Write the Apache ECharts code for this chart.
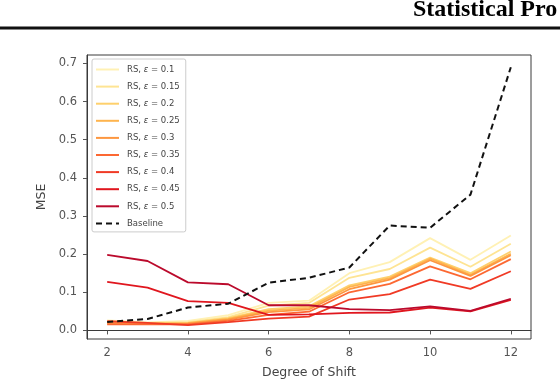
<!DOCTYPE html>
<html>
<head>
<meta charset="utf-8">
<script src="https://cdn.jsdelivr.net/npm/echarts@6/dist/echarts.min.js"></script>
<style>
  html, body { margin: 0; padding: 0; background: #fff; }
  #chart { width: 560px; height: 384px; }
</style>
</head>
<body>
<div id="chart"></div>
<script>
var shift = [2, 3, 4, 5, 6, 7, 8, 9, 10, 11, 12]
var xTicks = [2, 4, 6, 8, 10, 12]
var yTicks = [0, 0.1, 0.2, 0.3, 0.4, 0.5, 0.6, 0.7]
var epsilons = ['0.1', '0.15', '0.2', '0.25', '0.3', '0.35', '0.4', '0.45', '0.5']
var colors = ['#fff1b4', '#fee493', '#fed06c', '#feb44e', '#fd9740', '#fc6832', '#f03a25', '#e0161e', '#bb0a2c']

// MSE of RS for each epsilon
var rs01 = [0.026, 0.021, 0.025, 0.040, 0.072, 0.078, 0.150, 0.179, 0.242, 0.185, 0.249]
var rs015 = [0.024, 0.020, 0.022, 0.035, 0.065, 0.072, 0.138, 0.161, 0.217, 0.167, 0.227]
var rs02 = [0.022, 0.019, 0.020, 0.032, 0.056, 0.063, 0.118, 0.141, 0.191, 0.150, 0.207]
var rs025 = [0.020, 0.018, 0.019, 0.030, 0.052, 0.059, 0.114, 0.137, 0.188, 0.146, 0.201]
var rs03 = [0.018, 0.017, 0.018, 0.028, 0.048, 0.055, 0.108, 0.133, 0.184, 0.143, 0.197]
var rs035 = [0.016, 0.016, 0.016, 0.025, 0.041, 0.049, 0.100, 0.122, 0.168, 0.134, 0.187]
var rs04 = [0.024, 0.020, 0.014, 0.022, 0.031, 0.036, 0.081, 0.095, 0.133, 0.109, 0.155]
var rs045 = [0.127, 0.112, 0.077, 0.072, 0.041, 0.042, 0.046, 0.047, 0.060, 0.050, 0.080]
var rs05 = [0.198, 0.182, 0.126, 0.121, 0.066, 0.066, 0.056, 0.053, 0.063, 0.051, 0.083]
var baseline = [0.022, 0.030, 0.060, 0.070, 0.125, 0.138, 0.165, 0.275, 0.269, 0.356, 0.690]

var rsValues = [rs01, rs015, rs02, rs025, rs03, rs035, rs04, rs045, rs05]

function pairs(vals) {
  return shift.map(function (x, i) { return [x, vals[i]] })
}

var series = rsValues.map(function (vals, i) {
  return {
    name: 'RS, ε = ' + epsilons[i],
    type: 'line',
    data: pairs(vals),
    symbol: 'none',
    lineStyle: { color: colors[i], width: 1.8 },
    itemStyle: { color: colors[i] }
  }
})
series.push({
  name: 'Baseline',
  type: 'line',
  data: pairs(baseline),
  symbol: 'none',
  lineStyle: { color: '#111', width: 2, type: [6, 4] },
  itemStyle: { color: '#111' }
})

var chart = echarts.init(document.getElementById('chart'), null, { renderer: 'canvas' })
chart.setOption({
  animation: false,
  backgroundColor: '#fff',
  grid: {
    left: 87, right: 29, top: 55, bottom: 41,
    show: true, borderColor: '#3a3a3a', borderWidth: 1
  },
  graphic: [
    {
      type: 'text', left: 413, top: -2,
      style: { text: 'Statistical Pro', font: 'bold 24px "Liberation Serif"', fill: '#000' }
    },
    {
      type: 'rect', shape: { x: 0, y: 26.5, width: 560, height: 3 },
      style: { fill: '#111' }
    }
  ],
  legend: {
    orient: 'vertical',
    left: 92, top: 59,
    padding: [6, 6, 4, 3],
    itemWidth: 23, itemHeight: 10, itemGap: 8.1,
    itemStyle: { opacity: 0 },
    backgroundColor: 'rgba(255,255,255,0.85)',
    borderColor: '#cccccc', borderWidth: 1, borderRadius: 2,
    formatter: function (name) {
      return name.indexOf('ε') >= 0 ? name.replace('ε', '{e|ε}') : name
    },
    textStyle: {
      fontFamily: 'DejaVu Sans', fontSize: 8.5, color: '#444', padding: [0, 0, 0, 3],
      rich: { e: { fontFamily: 'DejaVu Sans', fontSize: 8.5, fontStyle: 'italic', color: '#444' } }
    },
    data: series.map(function (s) { return s.name })
  },
  xAxis: {
    type: 'value', min: 1.5, max: 12.5,
    name: 'Degree of Shift', nameLocation: 'middle', nameGap: 27,
    nameTextStyle: { fontFamily: 'DejaVu Sans', fontSize: 12.5, color: '#444' },
    axisLine: { lineStyle: { color: '#3a3a3a', width: 1 } },
    axisTick: { show: true, length: 4, lineStyle: { color: '#555' }, customValues: xTicks },
    axisLabel: { fontFamily: 'DejaVu Sans', fontSize: 11.5, color: '#555', margin: 8, customValues: xTicks },
    splitLine: { show: false }
  },
  yAxis: {
    type: 'value', min: -0.0225, max: 0.722,
    name: 'MSE', nameLocation: 'middle', nameGap: 38,
    nameTextStyle: { fontFamily: 'DejaVu Sans', fontSize: 12.5, color: '#444' },
    axisLine: { show: true, lineStyle: { color: '#3a3a3a', width: 1 } },
    axisTick: { show: true, length: 4, lineStyle: { color: '#555' }, customValues: yTicks },
    axisLabel: {
      fontFamily: 'DejaVu Sans', fontSize: 11.5, color: '#555', margin: 10, customValues: yTicks,
      formatter: function (v) { return v.toFixed(1) }
    },
    splitLine: { show: false }
  },
  series: series
})
</script>
</body>
</html>
